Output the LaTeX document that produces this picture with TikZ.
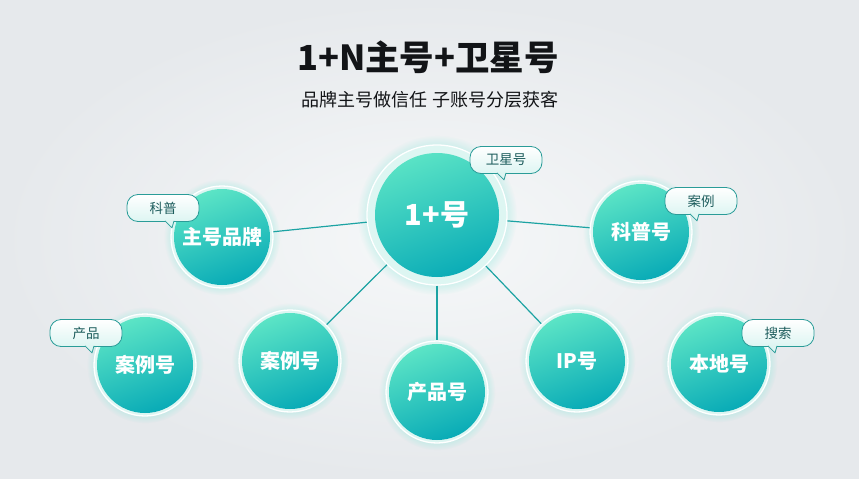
\documentclass[tikz,border=0pt]{standalone}
\usepackage{fontspec}
\setmainfont{Noto Sans CJK SC}
\usetikzlibrary{shadows,fadings,calc}
\definecolor{bgc}{HTML}{E6E9EC}
\definecolor{bglight}{HTML}{F6F8F9}
\definecolor{titlec}{HTML}{121417}
\definecolor{mintc}{HTML}{5EE6C6}
\definecolor{tealc}{HTML}{06A9B6}
\definecolor{bandc}{HTML}{DDF6F2}
\definecolor{glowc}{HTML}{8FE8DC}
\definecolor{linkc}{HTML}{1CA3A3}
\definecolor{tagline}{HTML}{2A9C98}
\definecolor{tagfill}{HTML}{DDF5F2}
\definecolor{tagtext}{HTML}{1C5C5C}
\tikzset{
  ball/.style 2 args={circle, draw=white, line width=1.3pt, fill=bandc,
    minimum size=#1, inner sep=0pt, text=white,
    font=\bfseries\fontsize{20}{23}\selectfont,
    circular glow={fill=glowc, opacity=0.4, shadow scale=1.14},
    path picture={\shade[top color=mintc, bottom color=tealc, shading angle=20]
      (path picture bounding box.center) circle (#2);}},
  tag/.style={rectangle, rounded corners=11pt, draw=tagline, line width=0.8pt,
    top color=white, bottom color=tagfill, minimum width=72pt,
    minimum height=27pt, inner sep=0pt, text=tagtext,
    font=\fontsize{13.5}{15}\selectfont},
  tail/.style={fill=tagfill, draw=tagline, line width=0.8pt, line join=round},
  link/.style={draw=linkc, line width=1.2pt}
}

\begin{document}
\begin{tikzpicture}[x=1pt,y=-1pt]
\useasboundingbox (0,0) rectangle (859,479);
\shade[inner color=bglight, outer color=bgc] (0,0) rectangle (859,479);

% title
\node[font=\bfseries\fontsize{34.5}{38}\selectfont, text=titlec] (title) at (428,57) {1+N主号+卫星号};
\node[font=\fontsize{18}{21}\selectfont, text=titlec] (subtitle) at (430,100) {品牌主号做信任 子账号分层获客};

% accounts
\node[ball={140pt}{62pt}, font=\bfseries\fontsize{29}{33}\selectfont] (hub) at (437,215) {1+号};
\node[ball={102pt}{48pt}] (brand) at (222,237) {主号品牌};
\node[ball={102pt}{48pt}] (sci) at (641,232) {科普号};
\node[ball={102pt}{48pt}] (casea) at (145,365) {案例号};
\node[ball={102pt}{48pt}] (caseb) at (290,361) {案例号};
\node[ball={102pt}{48pt}] (prod) at (437,392) {产品号};
\node[ball={102pt}{48pt}] (ip) at (577,361) {IP号};
\node[ball={102pt}{48pt}] (local) at (719,364) {本地号};

\foreach \n in {brand,sci,caseb,prod,ip}
  \draw[link] (hub) -- (\n);

% tags
\node[tag] (sat) at (506,160) {卫星号};
\node[tag] (pop) at (163,208) {科普};
\node[tag] (goods) at (86,333) {产品};
\node[tag] (cases) at (701,201) {案例};
\node[tag] (search) at (778,333) {搜索};
\foreach \t/\dx in {sat/-4,pop/7,goods/4,cases/-6,search/-5}
  \filldraw[tail] ($(\t.south)+(\dx-5,-1)$) -- ($(\t.south)+(\dx+2,6)$) -- ($(\t.south)+(\dx+4,-1)$);
\end{tikzpicture}
\end{document}
